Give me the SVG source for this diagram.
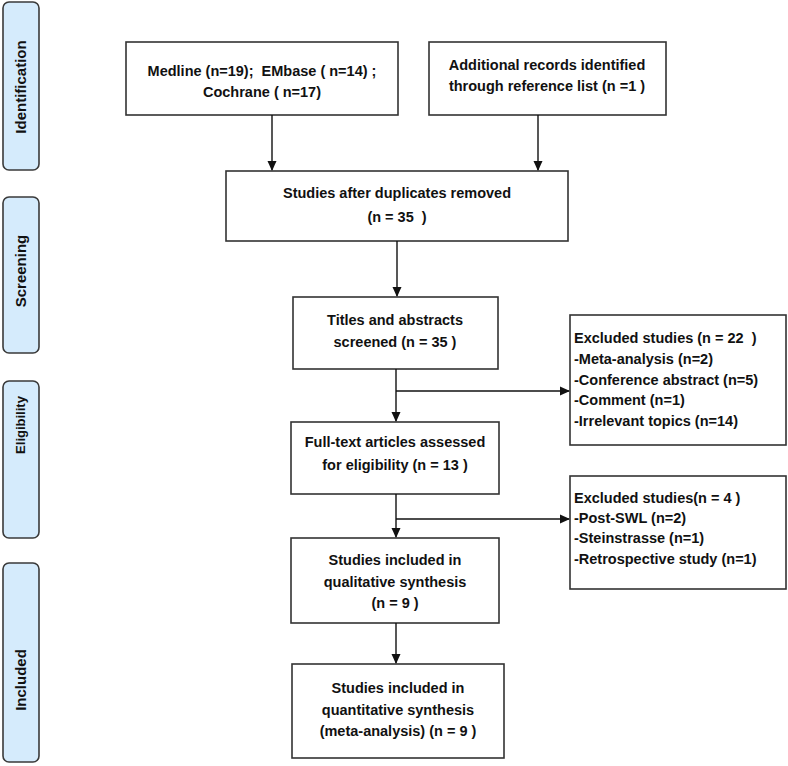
<svg xmlns="http://www.w3.org/2000/svg" width="788" height="766" viewBox="0 0 788 766">
<defs>
<marker id="ah" markerWidth="10" markerHeight="10" refX="9" refY="5" orient="auto" markerUnits="userSpaceOnUse">
<path d="M0,0.5 L10,5 L0,9.5 Z" fill="#111"/>
</marker>
<style>
.bar{fill:#d5ebfc;stroke:#3a3a3a;stroke-width:1.6}
.box{fill:#fff;stroke:#333;stroke-width:1.6}
.t{font-family:"Liberation Sans",Arial,sans-serif;font-weight:bold;font-size:14.5px;fill:#111;white-space:pre}
.c{text-anchor:middle}
.s{font-family:"Liberation Sans",Arial,sans-serif;font-weight:bold;font-size:15px;fill:#111;text-anchor:middle}
.ln{fill:none;stroke:#111;stroke-width:1.4}
</style>
</defs>
<rect width="788" height="766" fill="#fff"/>

<g id="stage-identification"><rect class="bar" x="3" y="2" width="36" height="168" rx="6"/><text class="s" transform="translate(26,87) rotate(-90)">Identification</text></g>
<g id="stage-screening"><rect class="bar" x="3" y="197" width="36" height="156" rx="6"/><text class="s" transform="translate(26,271) rotate(-90)">Screening</text></g>
<g id="stage-eligibility"><rect class="bar" x="3" y="381" width="36" height="157" rx="6"/><text class="s" style="font-size:13px" transform="translate(25,425) rotate(-90)">Eligibility</text></g>
<g id="stage-included"><rect class="bar" x="3" y="563" width="36" height="199" rx="6"/><text class="s" transform="translate(26,680) rotate(-90)">Included</text></g>

<g id="n-databases"><rect class="box" x="126" y="42" width="272" height="73"/>
<text class="t c" x="262" y="76">Medline (n=19);  EMbase ( n=14) ;</text>
<text class="t c" x="262" y="97">Cochrane ( n=17)</text></g>

<g id="n-additional"><rect class="box" x="429" y="42" width="237" height="73"/>
<text class="t c" x="547" y="70">Additional records identified</text>
<text class="t c" x="547" y="91">through reference list (n =1 )</text></g>

<g id="n-dedup"><rect class="box" x="226" y="171" width="342" height="70"/>
<text class="t c" x="397" y="198">Studies after duplicates removed</text>
<text class="t c" x="397" y="222">(n = 35  )</text></g>

<g id="n-screened"><rect class="box" x="293" y="297" width="205" height="72"/>
<text class="t c" x="395" y="325">Titles and abstracts</text>
<text class="t c" x="395" y="347">screened (n = 35 )</text></g>

<g id="n-excluded1"><rect class="box" x="570" y="315" width="216" height="130"/>
<text class="t" x="574" y="343">Excluded studies (n = 22  )</text>
<text class="t" x="574" y="364">-Meta-analysis (n=2)</text>
<text class="t" x="574" y="385">-Conference abstract (n=5)</text>
<text class="t" x="574" y="405">-Comment (n=1)</text>
<text class="t" x="574" y="426">-Irrelevant topics (n=14)</text></g>

<g id="n-fulltext"><rect class="box" x="291" y="422" width="208" height="72"/>
<text class="t c" x="395" y="447">Full-text articles assessed</text>
<text class="t c" x="395" y="470">for eligibility (n = 13 )</text></g>

<g id="n-excluded2"><rect class="box" x="570" y="476" width="216" height="113"/>
<text class="t" x="574" y="503">Excluded studies(n = 4 )</text>
<text class="t" x="574" y="523">-Post-SWL (n=2)</text>
<text class="t" x="574" y="543">-Steinstrasse (n=1)</text>
<text class="t" x="574" y="564">-Retrospective study (n=1)</text></g>

<g id="n-qualitative"><rect class="box" x="291" y="538" width="208" height="85"/>
<text class="t c" x="395" y="565">Studies included in</text>
<text class="t c" x="395" y="587">qualitative synthesis</text>
<text class="t c" x="395" y="608">(n = 9 )</text></g>

<g id="n-quantitative"><rect class="box" x="292" y="664" width="212" height="94"/>
<text class="t c" x="398" y="693">Studies included in</text>
<text class="t c" x="398" y="715">quantitative synthesis</text>
<text class="t c" x="398" y="736">(meta-analysis) (n = 9 )</text></g>

<g id="connectors">
<line class="ln" x1="272" y1="115" x2="272" y2="170" marker-end="url(#ah)"/>
<line class="ln" x1="538" y1="115" x2="538" y2="170" marker-end="url(#ah)"/>
<line class="ln" x1="397" y1="241" x2="397" y2="296" marker-end="url(#ah)"/>
<line class="ln" x1="396" y1="369" x2="396" y2="421" marker-end="url(#ah)"/>
<line class="ln" x1="396" y1="391" x2="569" y2="391" marker-end="url(#ah)"/>
<line class="ln" x1="396" y1="494" x2="396" y2="537" marker-end="url(#ah)"/>
<line class="ln" x1="396" y1="519" x2="569" y2="519" marker-end="url(#ah)"/>
<line class="ln" x1="396" y1="623" x2="396" y2="663" marker-end="url(#ah)"/>
</g>
</svg>
